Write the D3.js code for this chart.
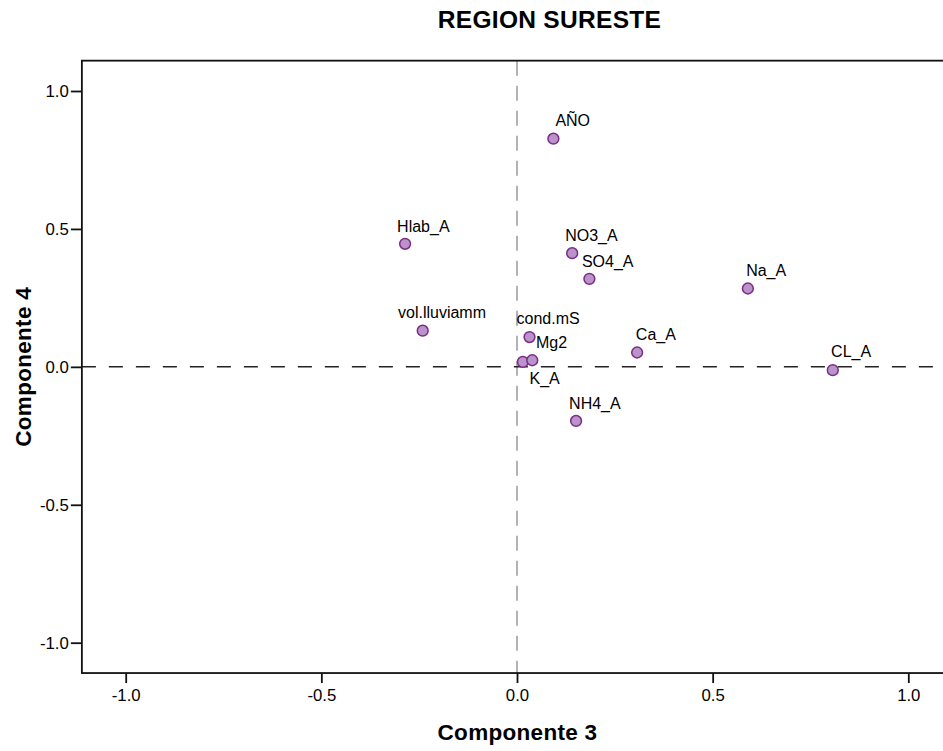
<!DOCTYPE html>
<html>
<head>
<meta charset="utf-8">
<script src="https://cdn.jsdelivr.net/npm/d3@7/dist/d3.min.js"></script>
<style>
  html, body { margin: 0; padding: 0; background: #fff; }
  svg { display: block; }
  text { font-family: "Liberation Sans", Arial, sans-serif; }
</style>
</head>
<body>
<svg id="chart" width="943" height="751"></svg>
<script>
// ---- data ----
const chartTitle = "REGION SURESTE";
const xTitle = "Componente 3";
const yTitle = "Componente 4";
const variables = ["AÑO", "Hlab_A", "NO3_A", "SO4_A", "Na_A", "vol.lluviamm", "cond.mS", "Ca_A", "K_A", "Mg2", "CL_A", "NH4_A"];
const comp3 = [0.093, -0.286, 0.141, 0.185, 0.590, -0.241, 0.032, 0.307, 0.015, 0.039, 0.807, 0.151];
const comp4 = [0.827, 0.446, 0.412, 0.319, 0.284, 0.131, 0.108, 0.052, 0.018, 0.024, -0.012, -0.196];
const tickValues = [-1.0, -0.5, 0.0, 0.5, 1.0];

// label placement relative to each point (layout only)
const labelPlacement = [
  [2, -13], [-8, -12], [-7, -12.5], [-7.5, -12.3], [-1.7, -12.7], [-24.7, -13],
  [-13, -13], [-1.3, -12.7], [6.6, 22.3], [3.7, -12], [-1.7, -12.7], [-7, -12]
];

// ---- layout ----
const svg = d3.select("#chart");
const x = d3.scaleLinear().domain([-1, 1]).range([125.7, 908.3]);
const y = d3.scaleLinear().domain([-1, 1]).range([642.7, 91]);
const xMin = -1.112, xMax = 1.112, yMin = -1.11, yMax = 1.11;

const plotL = x(xMin), plotR = x(xMax), plotT = y(yMax), plotB = y(yMin);

// reference lines
svg.append("line")
  .attr("x1", x(0)).attr("x2", x(0))
  .attr("y1", plotT).attr("y2", plotB)
  .attr("stroke", "#a0a0a0").attr("stroke-width", 1.6)
  .attr("stroke-dasharray", "15 10");

svg.append("line")
  .attr("x1", plotL).attr("x2", plotR)
  .attr("y1", y(0)).attr("y2", y(0))
  .attr("stroke", "#222").attr("stroke-width", 1.5)
  .attr("stroke-dasharray", "14 13");

// frame (left, top, bottom visible; right lies past the image edge)
svg.append("rect")
  .attr("x", plotL).attr("y", plotT)
  .attr("width", plotR - plotL).attr("height", plotB - plotT)
  .attr("fill", "none").attr("stroke", "#111").attr("stroke-width", 1.8);

// axes
const fmt = v => d3.format(".1f")(v).replace("\u2212", "-");
const xAxis = svg.append("g")
  .attr("transform", `translate(0,${plotB})`)
  .call(d3.axisBottom(x).tickValues(tickValues).tickFormat(fmt).tickSize(10).tickPadding(6));
const yAxis = svg.append("g")
  .attr("transform", `translate(${plotL},0)`)
  .call(d3.axisLeft(y).tickValues(tickValues).tickFormat(fmt).tickSize(11).tickPadding(2));
[xAxis, yAxis].forEach(g => {
  g.select(".domain").remove();
  g.selectAll(".tick line").attr("stroke", "#111").attr("stroke-width", 1.8);
  g.selectAll(".tick text")
    .attr("fill", "#000")
    .style("font-size", "16.8px")
    .style("font-family", "'Liberation Sans', Arial, sans-serif");
});

// points
const pts = variables.map((v, i) => ({ name: v, cx: comp3[i], cy: comp4[i], off: labelPlacement[i] }));

svg.append("g").selectAll("circle")
  .data(pts).join("circle")
  .attr("cx", d => x(d.cx)).attr("cy", d => y(d.cy))
  .attr("r", 5.4)
  .attr("fill", "#b993c9")
  .attr("stroke", "#7b2c84")
  .attr("stroke-width", 1.5);

svg.append("g").selectAll("text")
  .data(pts).join("text")
  .attr("x", d => x(d.cx) + d.off[0])
  .attr("y", d => y(d.cy) + d.off[1])
  .attr("font-size", 16)
  .attr("fill", "#000")
  .text(d => d.name);

// titles
svg.append("text")
  .attr("x", 549.5).attr("y", 28)
  .attr("text-anchor", "middle")
  .attr("font-size", 24.5).attr("font-weight", "bold")
  .style("letter-spacing", "0.3px")
  .text(chartTitle);

svg.append("text")
  .attr("x", 517.5).attr("y", 740)
  .attr("text-anchor", "middle")
  .attr("font-size", 22.5).attr("font-weight", "bold")
  .style("letter-spacing", "0.3px")
  .text(xTitle);

svg.append("text")
  .attr("transform", `translate(31,${(plotT + plotB) / 2}) rotate(-90)`)
  .attr("text-anchor", "middle")
  .attr("font-size", 22.5).attr("font-weight", "bold")
  .style("letter-spacing", "0.3px")
  .text(yTitle);
</script>
</body>
</html>
